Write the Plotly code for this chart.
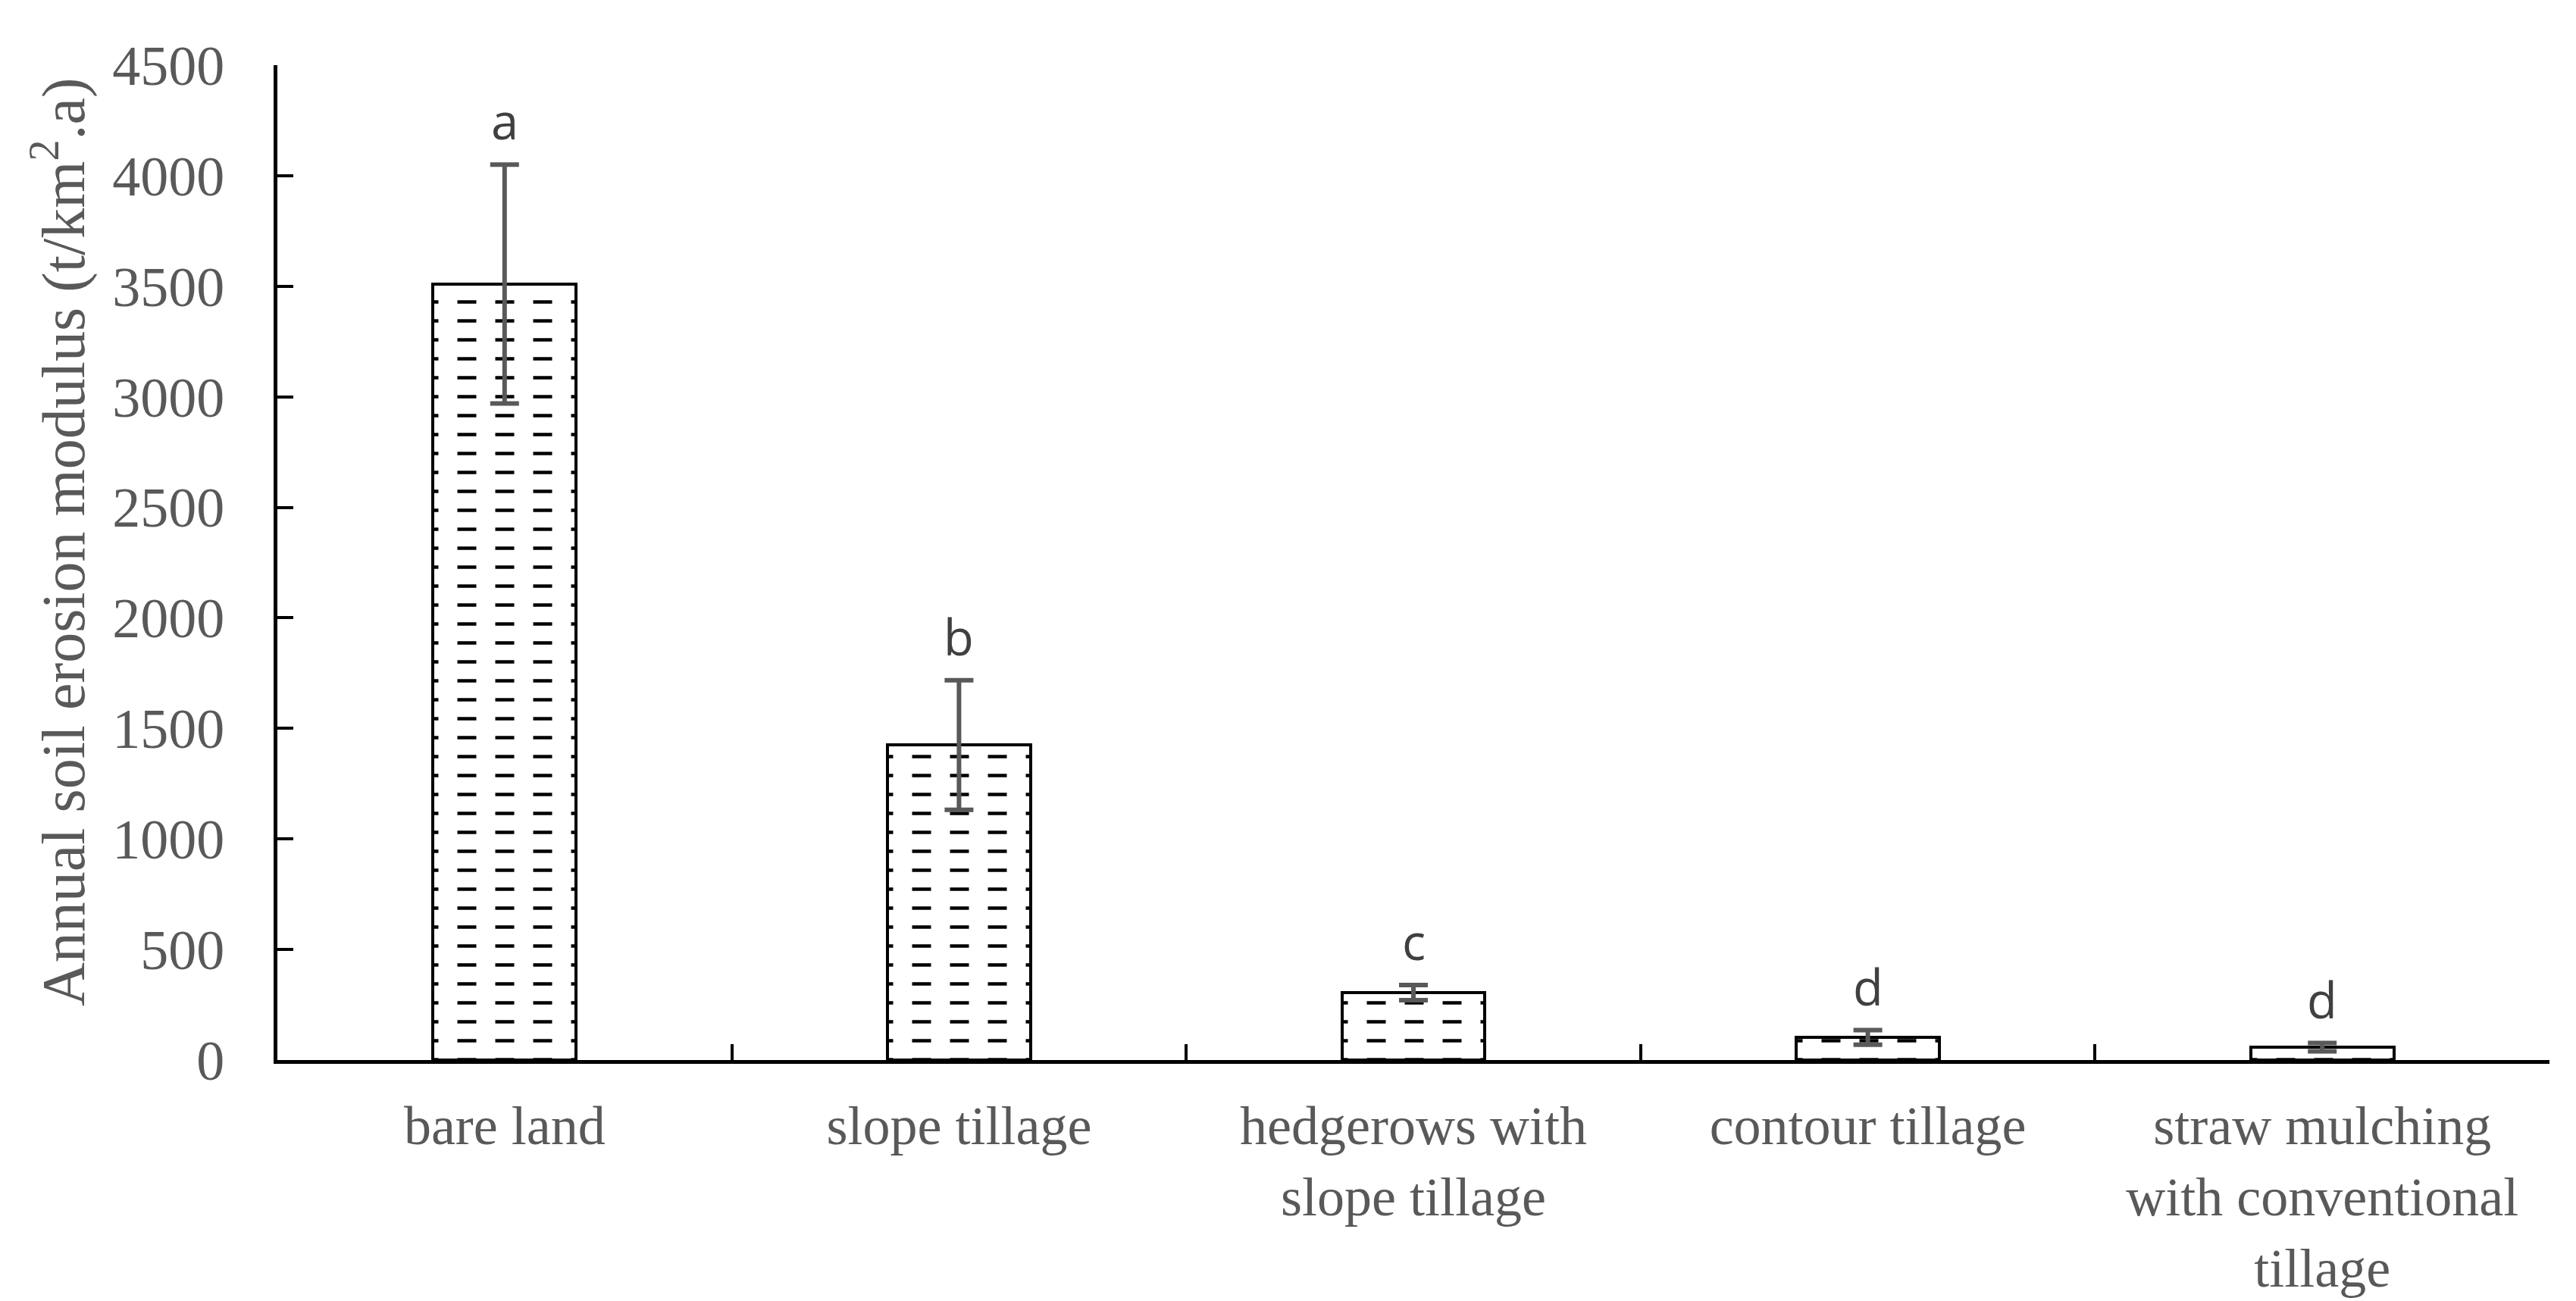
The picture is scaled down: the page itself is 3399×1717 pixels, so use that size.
import plotly.graph_objects as go

categories = ["bare land", "slope tillage", "hedgerows with<br>slope tillage",
              "contour tillage", "straw mulching<br>with conventional<br>tillage"]
means = [3510, 1425, 305, 102, 58]
errors = [540, 293, 34, 33, 19]
letters = ["a", "b", "c", "d", "d"]
y_ticks = [0, 500, 1000, 1500, 2000, 2500, 3000, 3500, 4000, 4500]

W, H = 3399, 1717
ML, MR, MT, MB = 358, 43, 78, 326
SERIF = "Liberation Serif, Times New Roman, serif"
GREY = "#595959"
BAR_W = 0.315

fig = go.Figure()

# hatch base: horizontal lines
fig.add_trace(go.Bar(
    x=categories, y=means, width=BAR_W,
    marker=dict(color="white", line=dict(width=0),
                pattern=dict(shape="-", fgcolor="black", bgcolor="white",
                             size=25, solidity=0.18, fillmode="replace")),
    hoverinfo="skip", showlegend=False))
# white vertical stripes to break lines into dashes
fig.add_trace(go.Bar(
    x=categories, y=means, width=BAR_W,
    marker=dict(color="rgba(0,0,0,0)", line=dict(width=0),
                pattern=dict(shape="|", fgcolor="white", fgopacity=1,
                             bgcolor="rgba(0,0,0,0)",
                             size=50, solidity=0.5, fillmode="overlay")),
    hoverinfo="skip", showlegend=False))
# outline + error bars
fig.add_trace(go.Bar(
    x=categories, y=means, width=BAR_W,
    marker=dict(color="rgba(0,0,0,0)", line=dict(color="black", width=4)),
    error_y=dict(type="data", array=errors, visible=True,
                 color=GREY, thickness=6, width=19),
    showlegend=False))

for c, m, e, l in zip(categories, means, errors, letters):
    fig.add_annotation(x=c, y=m + e, text=l, showarrow=False,
                       xref="x", yref="y", yanchor="bottom", yshift=12,
                       font=dict(family="Open Sans, sans-serif", size=65, color="#404040"))

fig.add_annotation(
    text="Annual soil erosion modulus (t/km<sup>2</sup>.a)",
    xref="paper", yref="paper", x=(70 - ML) / (W - ML - MR), y=(H - MB - 707) / (H - MB - MT),
    xanchor="center", yanchor="middle", textangle=-90, showarrow=False,
    font=dict(family=SERIF, size=80, color=GREY))

fig.update_layout(
    width=W, height=H,
    margin=dict(l=ML, r=MR, t=MT, b=MB, pad=0, autoexpand=False),
    paper_bgcolor="white", plot_bgcolor="white",
    barmode="overlay", bargap=0,
    showlegend=False,
    xaxis=dict(
        type="category", range=[-0.5, 4.5], automargin=False,
        showline=True, linecolor="black", linewidth=5,
        ticks="inside", tickson="boundaries", ticklen=21, tickwidth=4, tickcolor="black",
        showgrid=False, zeroline=False,
        tickfont=dict(family=SERIF, size=72, color=GREY),
        ticklabelstandoff=20),
    yaxis=dict(
        range=[0, 4500], tickvals=y_ticks, automargin=False,
        showline=True, linecolor="black", linewidth=5,
        ticks="inside", ticklen=21, tickwidth=4, tickcolor="black",
        showgrid=False, zeroline=False,
        tickfont=dict(family=SERIF, size=74, color=GREY),
        ticklabelstandoff=50),
)

fig.write_html("out.html")
